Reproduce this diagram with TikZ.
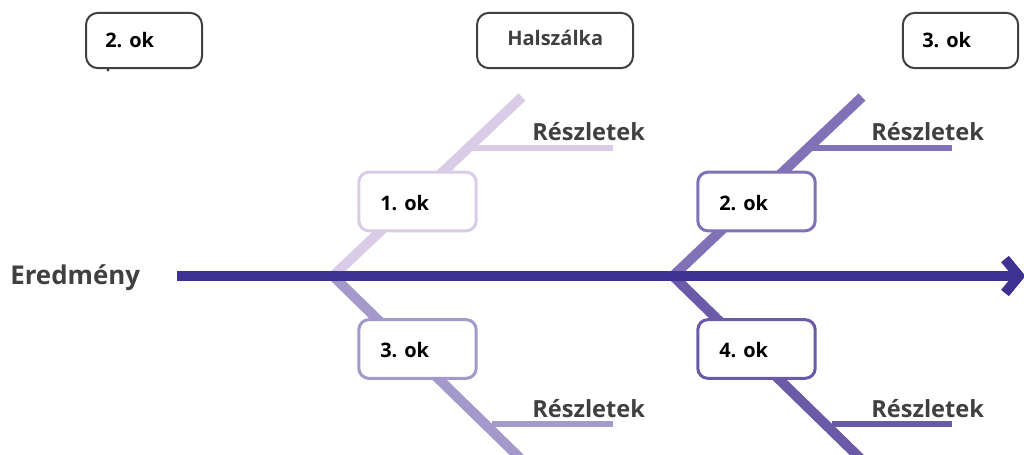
\documentclass[tikz,border=0pt]{standalone}
\usepackage{fontspec}
\setmainfont{Open Sans}
\begin{document}
\begin{tikzpicture}[x=0.75pt,y=-0.75pt]
  % colours of the bones
  \definecolor{spine}{HTML}{3E3191}
  \definecolor{boneA}{HTML}{D8CCE6}
  \definecolor{boneB}{HTML}{8171B6}
  \definecolor{boneC}{HTML}{A399CB}
  \definecolor{boneD}{HTML}{6A5AA8}
  \definecolor{txtgray}{HTML}{404040}
  \tikzset{
    bone/.style={line width=7.5pt},
    twig/.style={line width=4.5pt},
    causebox/.style={draw, line width=2.25pt, rounded corners=7.5pt, fill=white,
      minimum width=88pt, minimum height=44pt, inner sep=0pt},
    topbox/.style={draw=txtgray, line width=1.5pt, rounded corners=9pt, fill=white,
      minimum height=41.5pt, inner sep=0pt},
    oklabel/.style={anchor=base west, inner sep=0pt, font=\bfseries\fontsize{15pt}{17pt}\selectfont, text=black},
    detail/.style={anchor=base west, inner sep=0pt, font=\bfseries\fontsize{17.7pt}{19pt}\selectfont, text=txtgray},
  }
  \useasboundingbox (0,0) rectangle (1024,454);
  \clip (0,0) rectangle (1024,454);

  % junctions on the spine and free ends of the bones
  \coordinate (j1) at (333,276);
  \coordinate (j2) at (673,276);
  \coordinate (tA) at (522,97);
  \coordinate (tB) at (862,97);
  \coordinate (tC) at (524,462);
  \coordinate (tD) at (864,462);
  \coordinate (s0) at (177,276);
  \coordinate (s1) at (1019,276);

  % bones
  \draw[bone, boneA] (j1) -- (tA);
  \draw[bone, boneC] (j1) -- (tC);
  \draw[bone, boneB] (j2) -- (tB);
  \draw[bone, boneD] (j2) -- (tD);

  % detail twigs
  \coordinate (wA0) at (470,148); \coordinate (wA1) at (613,148);
  \coordinate (wB0) at (810,148); \coordinate (wB1) at (952,148);
  \coordinate (wC0) at (492,424); \coordinate (wC1) at (613,424);
  \coordinate (wD0) at (832,424); \coordinate (wD1) at (952,424);
  \draw[twig, boneA] (wA0) -- (wA1);
  \draw[twig, boneB] (wB0) -- (wB1);
  \draw[twig, boneC] (wC0) -- (wC1);
  \draw[twig, boneD] (wD0) -- (wD1);

  % main spine with its head
  \draw[bone, spine] (s0) -- (s1);
  \coordinate (h0) at (1005,259);
  \coordinate (h1) at (1005,293);
  \draw[bone, spine, miter limit=10] (h0) -- (s1) -- (h1);

  % cause boxes
  \node[causebox, draw=boneA] (c1) at (417.5,201.5) {};
  \node[causebox, draw=boneB] (c2) at (756.5,201.5) {};
  \node[causebox, draw=boneC] (c3) at (417.5,349) {};
  \node[causebox, draw=boneD] (c4) at (756.5,349) {};
  \node[oklabel] (l1) at (380,210) {1. ok};
  \node[oklabel] (l2) at (719,210) {2. ok};
  \node[oklabel] (l3) at (380,357) {3. ok};
  \node[oklabel] (l4) at (719,357) {4. ok};

  % detail labels
  \node[detail] (d1) at (532,140) {Részletek};
  \node[detail] (d2) at (871,140) {Részletek};
  \node[detail] (d3) at (532,417) {Részletek};
  \node[detail] (d4) at (871,417) {Részletek};

  % effect label
  \node[anchor=base west, inner sep=0pt, font=\bfseries\fontsize{19.4pt}{21pt}\selectfont, text=txtgray] (eff) at (10,284) {Eredmény};

  % boxes along the top
  \node[topbox, minimum width=87pt] (b1) at (144,40.5) {};
  \node[topbox, minimum width=117pt] (b2) at (555,40.5) {};
  \node[topbox, minimum width=86.5pt] (b3) at (960.5,40.5) {};
  \node[oklabel] (bl1) at (105,47) {2. ok};
  \node[anchor=base west, inner sep=0pt, font=\bfseries\fontsize{15pt}{17pt}\selectfont, text=txtgray] (bl2) at (507,45) {Halszálka};
  \node[oklabel] (bl3) at (922,47) {3. ok};
  \fill[txtgray] (108,70) circle (1.2pt);
\end{tikzpicture}
\end{document}
